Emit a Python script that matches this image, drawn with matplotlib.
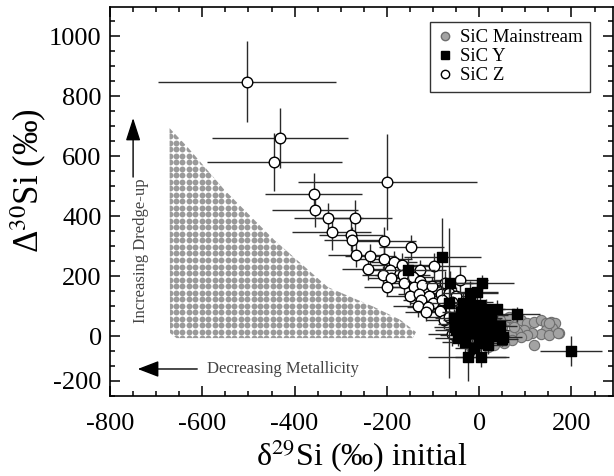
import numpy as np
import matplotlib
matplotlib.use("Agg")
from matplotlib import pyplot as plt
from matplotlib.patches import Polygon
from matplotlib.lines import Line2D
from matplotlib.ticker import MultipleLocator

plt.rcParams['font.family'] = ['Liberation Serif', 'DejaVu Serif']
plt.rcParams['mathtext.fontset'] = 'stix'
plt.rcParams['axes.unicode_minus'] = False

# SiC mainstream grains (error bars too small to see)
ms_x = [61, 75, 90, 104, 119, 133, 144, 155, 165, 173, 158, 144, 133, 115, 98, 83, 68,
        54, 39, 25, 10, -4, -18, 119, 104, 75, 50, 64, 46, 90, 72, 54, 32, 18, 151, 170,
        151, 30, 15, 0, -10, 40]
ms_y = [53, 48, 53, 42, 48, 53, 42, 48, 42, 11, 26, 20, 7, 9, 20, 14, 3,
        -2, -8, -16, -24, -33, -36, -30, 3, 31, 31, 64, 53, -2, -13, -24, -30, -36, 3, 10,
        43, 20, 0, -10, -15, 40]

# SiC Y grains
y_x = [-80, -155, -63, 7, -20, -4, 81, 199, -24, 3, 38, 52, 46, -36, -45, -30, -20, -10,
       0, 10, 20, -5, -25, -40, -15, 5, -30, 25, 30, -50, 15, -20, -35, -55, 0, -12, -45,
       20, 49, -52, -66, -28, -8, 12, -18, 2, -38, -22, 8, -2, 24]
y_y = [264, 220, 178, 178, 142, 148, 73, -50, -71, -69, 89, -2, 33, 3, 40, 60, 80, 100,
       60, 40, 20, 20, 25, 80, 10, -10, -20, 55, 0, 20, 90, 115, 110, 60, -25, -40, -5,
       -30, -10, 31, 110, 45, 75, 70, 60, 105, 55, 95, 5, 35, 38]
y_xerr = [83, 60, 55, 69, 60, 45, 50, 67, 88, 55, 40, 40, 35, 50, 45, 40, 55, 45,
          50, 40, 45, 35, 50, 40, 45, 40, 50, 45, 35, 45, 40, 50, 45, 40, 45, 40, 50,
          40, 35, 45, 40, 45, 40, 50, 35, 45, 40, 50, 45, 40, 35]
y_yerr = [130, 40, 40, 25, 40, 35, 25, 50, 78, 35, 30, 25, 25, 30, 30, 35, 40, 30,
          35, 30, 25, 30, 35, 30, 30, 25, 35, 30, 25, 30, 35, 40, 35, 30, 30, 25, 30,
          30, 25, 30, 250, 30, 35, 30, 25, 30, 35, 30, 25, 30, 30]

# SiC Z grains
z_x = [-503, -431, -444, -199, -359, -356, -327, -270, -320, -278, -276, -268, -206, -236,
       -147, -206, -184, -168, -242, -193, -128, -99, -209, -191, -166, -144, -128, -41,
       -200, -164, -141, -123, -103, -74, -151, -130, -108, -83, -65, -51, -126, -101, -80,
       -58, -132, -112, -85, -62, -76, -65, -60, -116, -46]
z_y = [848, 659, 579, 514, 473, 420, 394, 394, 348, 337, 320, 269, 317, 267,
       298, 256, 248, 237, 222, 220, 220, 233, 203, 192, 203, 198, 184, 187,
       162, 176, 164, 170, 168, 176, 134, 140, 133, 140, 142, 133, 120, 111, 120,
       114, 100, 96, 84, 89, 53, 64, 6, 81, 42]
z_xerr = [193, 147, 146, 194, 106, 93, 75, 81, 85, 70, 60, 60, 70, 55,
          70, 60, 50, 65, 55, 60, 55, 70, 45, 50, 60, 45, 55, 60,
          50, 45, 55, 50, 45, 60, 50, 45, 55, 40, 50, 45, 40, 50, 45,
          40, 55, 45, 50, 40, 40, 45, 50, 45, 40]
z_yerr = [135, 100, 97, 161, 70, 55, 50, 60, 60, 55, 45, 40, 45, 40,
          40, 40, 35, 40, 35, 40, 35, 45, 30, 35, 40, 30, 35, 45,
          30, 35, 30, 35, 30, 40, 30, 35, 30, 30, 35, 30, 30, 25, 30,
          30, 35, 30, 25, 30, 30, 25, 40, 30, 25]

# outline of the dotted model region
region_x = [-671, -632, -552, -444, -328, -228, -170, -137, -144, -656, -670]
region_y = [693, 630, 487, 320, 163, 97, 53, 13, -7, -7, 10]

x_ticks = [-800, -600, -400, -200, 0, 200]
y_tick_pos = [-150, 0, 200, 400, 600, 800, 1000]
y_tick_labels = ['-200', '0', '200', '400', '600', '800', '1000']

fig = plt.figure(figsize=(6.14, 4.76), dpi=100)
ax = fig.add_axes([0.1792, 0.1681, 0.8192, 0.8172])
ax.set_xlim(-800, 290)
ax.set_ylim(-200, 1097)

# dotted region: a grid of dots clipped to the outline
patch = Polygon(np.column_stack([region_x, region_y]), closed=True,
                facecolor='none', edgecolor='none')
ax.add_patch(patch)
gx, gy = np.meshgrid(np.arange(min(region_x), max(region_x) + 14, 14),
                     np.arange(min(region_y), max(region_y) + 22, 21.7))
dots = ax.scatter(gx.ravel(), gy.ravel(), s=18, color='#9a9a9a', linewidths=0, zorder=1)
dots.set_clip_path(patch)

# mainstream grains
ax.scatter(ms_x, ms_y, s=55, facecolor='#a3a3a3', edgecolor='#6e6e6e', linewidths=0.8, zorder=2)

# Z grains
ax.errorbar(z_x, z_y, xerr=z_xerr, yerr=z_yerr, fmt='none', ecolor='#2a2a2a',
            elinewidth=1.0, capsize=0, zorder=3)
ax.scatter(z_x, z_y, s=58, facecolor='white', edgecolor='black', linewidths=1.0, zorder=4)

# Y grains
ax.errorbar(y_x, y_y, xerr=y_xerr, yerr=y_yerr, fmt='none', ecolor='#2a2a2a',
            elinewidth=1.0, capsize=0, zorder=5)
ax.scatter(y_x, y_y, s=55, marker='s', facecolor='black', edgecolor='black', zorder=6)

# arrows and notes
ax.annotate('', xy=(-750, 727), xytext=(-750, 530),
            arrowprops=dict(arrowstyle='-|>,head_length=1.4,head_width=0.45',
                            mutation_scale=10, lw=1, color='black', shrinkA=0, shrinkB=0))
ax.annotate('', xy=(-740, -110), xytext=(-611, -110),
            arrowprops=dict(arrowstyle='-|>,head_length=1.3,head_width=0.5',
                            mutation_scale=10, lw=1, color='black', shrinkA=0, shrinkB=0))
ax.text(-733, 283, 'Increasing Dredge-up', rotation=90, ha='center', va='center',
        fontsize=12, color='#444444')
ax.text(-425, -110, 'Decreasing Metallicity', ha='center', va='center',
        fontsize=12, color='#444444')

# axes styling
ax.set_xticks(x_ticks)
ax.set_yticks(y_tick_pos)
ax.set_yticklabels(y_tick_labels)
ax.xaxis.set_minor_locator(MultipleLocator(50))
ax.yaxis.set_minor_locator(MultipleLocator(50))
ax.tick_params(which='both', direction='in', top=True, right=True, width=1.1)
ax.tick_params(which='major', length=7, labelsize=19)
ax.tick_params(which='minor', length=3.5)
ax.tick_params(axis='x', which='major', pad=12)
ax.tick_params(axis='y', which='major', pad=6)
for s in ax.spines.values():
    s.set_linewidth(1.2)

ax.set_xlabel('δ$^{29}$Si (‰) initial', fontsize=23, labelpad=2)
ax.set_ylabel('Δ$^{30}$Si (‰)', fontsize=25, labelpad=0)
ax.yaxis.label.set_y(0.555)

handles = [
    Line2D([], [], ls='none', marker='o', ms=6, mfc='#a3a3a3', mec='#6e6e6e', label='SiC Mainstream'),
    Line2D([], [], ls='none', marker='s', ms=6, mfc='black', mec='black', label='SiC Y'),
    Line2D([], [], ls='none', marker='o', ms=6, mfc='white', mec='black', label='SiC Z'),
]
leg = ax.legend(handles=handles, loc='upper right', bbox_to_anchor=(0.955, 0.962),
                fontsize=13.5, frameon=True, fancybox=False, edgecolor='black',
                handlelength=0.8, handletextpad=0.4, labelspacing=0.1, borderpad=0.4,
                borderaxespad=0)
leg.get_frame().set_linewidth(1.0)

fig.savefig('out.png', dpi=100)
